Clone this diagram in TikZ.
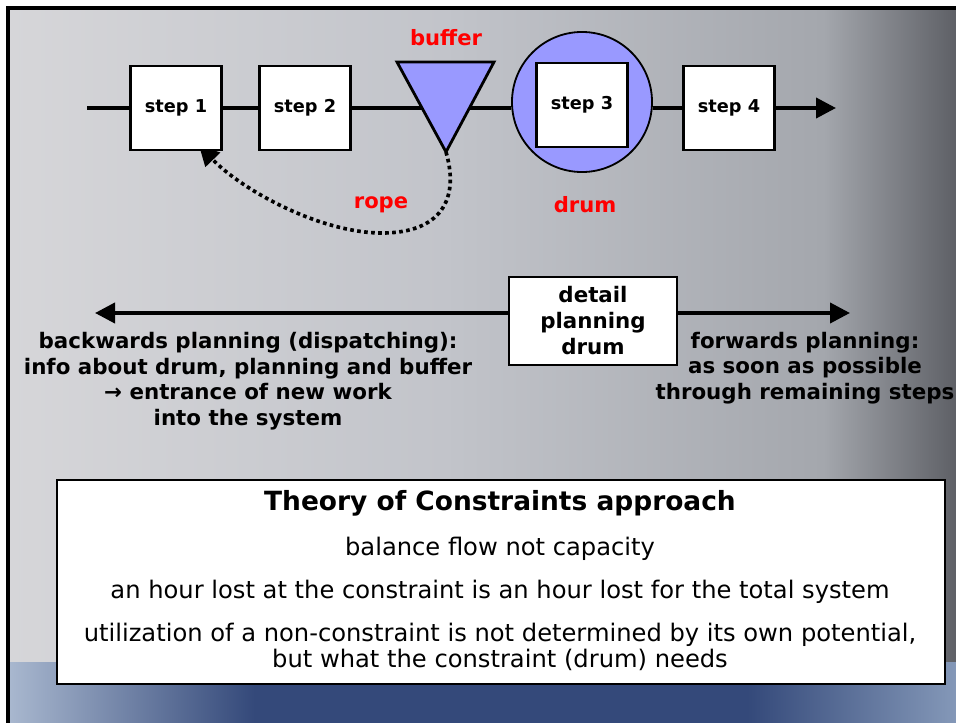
\documentclass[tikz,border=0pt]{standalone}
\usepackage{fontspec}
\setmainfont{DejaVu Sans}
\usepackage{tikz}
\usetikzlibrary{arrows.meta, backgrounds}

\definecolor{bufblue}{HTML}{9999FF}
\definecolor{bgleft}{HTML}{D6D6D9}
\definecolor{bgmid}{HTML}{C2C4CA}
\definecolor{bgmidtwo}{HTML}{A4A7AD}
\definecolor{bgright}{HTML}{5E6066}
\definecolor{bandleft}{HTML}{A9B8CF}
\definecolor{bandmid}{HTML}{34497A}
\definecolor{bandright}{HTML}{8498B8}
% TikZ maps 25bp..75bp of a shading onto the path
\pgfdeclarehorizontalshading{bgshade}{100bp}{color(0bp)=(bgleft); color(25bp)=(bgleft); color(48bp)=(bgmid); color(68bp)=(bgmidtwo); color(75bp)=(bgright); color(100bp)=(bgright)}
\pgfdeclarehorizontalshading{bandshade}{100bp}{color(0bp)=(bandleft); color(25bp)=(bandleft); color(38bp)=(bandmid); color(64bp)=(bandmid); color(75bp)=(bandright); color(100bp)=(bandright)}

\begin{document}
\begin{tikzpicture}[
  x=0.025cm, y=-0.025cm,
  every node/.style={font=\bfseries\fontsize{12.6}{14}\selectfont},
  stepbox/.style={draw, line width=2pt, fill=white, minimum width=2.275cm, minimum height=2.1cm, inner sep=0pt},
  redlabel/.style={text=red, font=\bfseries\fontsize{15}{17}\selectfont},
  flow/.style={line width=2.8pt},
  arrow/.style={-{Triangle[length=5mm, width=5mm]}, line width=2.8pt},
  rope/.style={-{Triangle[length=5mm, width=5mm]}, line width=2.6pt, dash pattern=on 2.6pt off 2.4pt},
  plan/.style={align=center, font=\bfseries\fontsize{15.2}{18.2}\selectfont},
  note/.style={align=center, font=\fontsize{17.2}{18}\selectfont}
]
\useasboundingbox (0,0) rectangle (956,723);

% --- Flow line: steps, buffer, drum ---
\coordinate (in)  at (87,108);
\coordinate (out) at (836,108);
\node[stepbox] (step1) at (176,108) {step 1};
\node[stepbox] (step2) at (305,108) {step 2};
\filldraw[fill=bufblue, line width=2pt] (397,62) -- (494,62) -- (446,152) -- cycle;
\coordinate (buftip) at (446,152);
\node[circle, draw, line width=1.3pt, fill=bufblue, minimum size=3.5cm] (drum) at (582,102) {};
\node[stepbox] (step3) at (582,105) {step 3};
\node[stepbox] (step4) at (729,108) {step 4};

% --- Labels ---
\node[redlabel] (buflabel)  at (446,38)  {buffer};
\node[redlabel] (ropelabel) at (381,205) {rope};
\node[redlabel] (drumlabel) at (585,205) {drum};

% --- Planning ---
\node[draw, line width=1.4pt, fill=white, minimum width=4.175cm, minimum height=2.2cm, align=center,
  font=\bfseries\fontsize{15.2}{18.5}\selectfont] (detail) at (593,321) {detail\\planning\\drum};
\coordinate (backend) at (95,313);
\coordinate (fwdend)  at (850,313);
\node[plan] (backtext) at (248,381) {backwards planning (dispatching):\\info about drum, planning and buffer\\→ entrance of new work\\into the system};
\node[plan] (fwdtext) at (805,368) {forwards planning:\\as soon as possible\\through remaining steps};

% --- Theory of Constraints box ---
\node[draw, line width=1.4pt, fill=white, minimum width=22.2cm, minimum height=5.075cm] (tocbox) at (501,582) {};
\node[font=\bfseries\fontsize{18.8}{22}\selectfont] (toctitle) at (500,503) {Theory of Constraints approach};
\node[note] (rule1) at (500,549) {balance flow not capacity};
\node[note] (rule2) at (500,592) {an hour lost at the constraint is an hour lost for the total system};
\node[note] (rule3) at (500,647) {utilization of a non-constraint is not determined by its own potential,\\but what the constraint (drum) needs};

% --- Background and connectors ---
\begin{scope}[on background layer]
  \fill[white] (0,0) rectangle (956,723);
  \shade[shading=bgshade] (8,8) rectangle (956,723);
  \shade[shading=bandshade] (8,662) rectangle (956,723);
  \draw[line width=2.2pt] (8,723) -- (8,8) -- (956,8);
\end{scope}
\begin{scope}[on background layer]
  \draw[flow] (in) -- (step1.west);
  \draw[flow] (step1.east) -- (step2.west);
  \draw[flow] (step2.east) -- (step2.east -| drum.west);
  \draw[flow] (drum.east |- step4.west) -- (step4.west);
  \draw[arrow] (step4.east) -- (out);
  \draw[arrow] (detail.west |- backend) -- (backend);
  \draw[arrow] (detail.east |- fwdend) -- (fwdend);
  % rope back to step 1
  \draw[rope] (buftip) .. controls (460,200) and (440,233) .. (382,233)
    .. controls (320,233) and (242,190) .. ([xshift=0.575cm, yshift=0.15cm]step1.south);
\end{scope}

\end{tikzpicture}
\end{document}
